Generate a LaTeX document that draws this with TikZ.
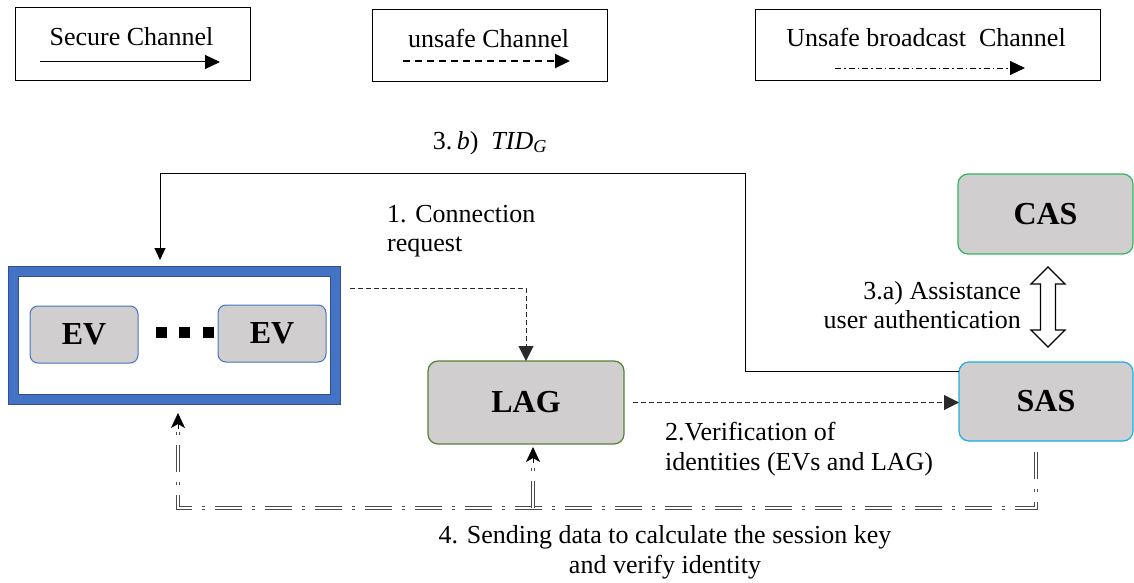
\documentclass[tikz,border=0pt]{standalone}
\usepackage{fontspec}
\setmainfont{Liberation Serif}
\usetikzlibrary{arrows.meta,calc}

\definecolor{boxgray}{HTML}{D0CECE}
\definecolor{evblue}{HTML}{4472C4}
\definecolor{evdark}{HTML}{2F528F}
\definecolor{laggreen}{HTML}{548235}
\definecolor{casgreen}{HTML}{2EB85C}
\definecolor{sasblue}{HTML}{1AAEE6}
\definecolor{bcgray}{HTML}{4A4A4A}
\definecolor{dashgray}{HTML}{2A2A2A}

\begin{document}
\begin{tikzpicture}[x=1pt,y=-1pt,
  lbl/.style={font=\fontsize{26}{29.5}\selectfont, inner sep=0pt},
  legendbox/.style={draw, line width=1pt, inner sep=0pt, outer sep=0pt},
  entity/.style={draw, fill=boxgray, rounded corners=10pt, line width=1.2pt,
    font=\fontsize{32}{36}\selectfont\bfseries, inner sep=0pt, outer sep=0pt},
  evbox/.style={entity, draw=evblue, line width=1pt, rounded corners=8pt,
    minimum width=108pt, minimum height=57pt},
  securearrow/.style={line width=1pt, -{Triangle[length=15pt,width=14pt]}},
  unsafelegend/.style={line width=2.2pt, dash pattern=on 7pt off 5pt,
    -{Triangle[length=15pt,width=14pt]}},
  bcastlegend/.style={line width=0.9pt, dash pattern=on 6pt off 3pt on 1.5pt off 3pt,
    -{Triangle[length=15pt,width=14pt]}},
  unsafeconn/.style={draw=dashgray, line width=1pt, dash pattern=on 5pt off 3pt,
    -{Triangle[length=15pt,width=15pt]}},
  bcast/.style={draw=bcgray, line width=0.9pt, double=white, double distance=1.6pt,
    dash pattern=on 27pt off 10pt on 3pt off 10pt},
  bctip/.style={line width=0.6pt, -{Stealth[length=15pt,width=14pt,inset=4pt]}},
]
\useasboundingbox (0,0) rectangle (1134,583);

% ---------- legend ----------
\node[legendbox, minimum width=235pt, minimum height=73pt] (lgSecure) at (132.5,44.5) {};
\node[lbl] (lgSecureTxt) at (131.5,37) {Secure Channel};
\coordinate (lgSecureA) at (40,62);
\coordinate (lgSecureB) at (220,62);
\draw[securearrow] (lgSecureA) -- (lgSecureB);

\node[legendbox, minimum width=235pt, minimum height=72pt] (lgUnsafe) at (489.5,46) {};
\node[lbl] (lgUnsafeTxt) at (488.5,38) {unsafe Channel};
\coordinate (lgUnsafeA) at (403,61);
\coordinate (lgUnsafeB) at (570,61);
\draw[unsafelegend] (lgUnsafeA) -- (lgUnsafeB);

\node[legendbox, minimum width=345pt, minimum height=71pt] (lgBcast) at (927.5,45.5) {};
\node[lbl] (lgBcastTxt) at (926,37) {Unsafe broadcast~ Channel};
\coordinate (lgBcastA) at (835,68);
\coordinate (lgBcastB) at (1025,68);
\draw[bcastlegend] (lgBcastA) -- (lgBcastB);

% ---------- EV group ----------
\node[draw=evdark, line width=1.2pt, double=evblue, double distance=8.6pt,
      minimum width=322pt, minimum height=128pt, inner sep=0pt, outer sep=5.5pt]
      (evs) at (174.5,335.5) {};
\node[evbox] (ev1) at (84,334.5) {EV};
\node[evbox] (ev2) at (272,333.5) {EV};
\fill (155.5,327) rectangle ++(11,11);
\fill (178.5,327) rectangle ++(11,11);
\fill (202.5,327) rectangle ++(11,11);

% ---------- servers ----------
\node[entity, draw=laggreen, minimum width=196pt, minimum height=83pt] (lag) at (526,402.5) {LAG};
\node[entity, draw=casgreen, minimum width=175pt, minimum height=80pt] (cas) at (1045.5,214) {CAS};
\node[entity, draw=sasblue, minimum width=174pt, minimum height=79pt] (sas) at (1046,401.5) {SAS};

% ---------- 3.b) secure channel back to the EVs ----------
\coordinate (topR) at (745,173);
\draw[line width=1pt, -{Triangle[length=12pt,width=11pt]}, shorten >=6pt]
  ([yshift=30.5pt]sas.west) -| (topR) -| ([xshift=-14.5pt]evs.north);
\node[lbl] (tidlbl) at (490,143) {3.\,\textit{b})~~\textit{TID}\textsubscript{\textit{G}}};

% ---------- 1. connection request ----------
\draw[unsafeconn, shorten <=9pt] ([yshift=47.5pt]evs.east) -| (lag.north);
\node[lbl, align=left, anchor=west] (reqlbl) at (387,231) {1. Connection\\request};

% ---------- 2. verification ----------
\draw[unsafeconn, shorten <=9pt] (lag.east) -- (lag.east -| sas.west);
\node[lbl, align=left, anchor=west] (verlbl) at (665,449) {2.Verification of\\identities (EVs and LAG)};

% ---------- 3.a) CAS <-> SAS ----------
\coordinate (dAtop) at ($(cas.south)+(2.5,13)$);
\draw[fill=white, line width=1.2pt, line join=miter]
  (dAtop) -- ++(17,17) -- ++(-9.5,0) -- ++(0,46) -- ++(9.5,0) -- ++(-17,17)
  -- ++(-17,-17) -- ++(9.5,0) -- ++(0,-46) -- ++(-9.5,0) -- cycle;
\node[lbl, align=right, anchor=east] (assistlbl) at (1021,305) {3.a) Assistance\\user authentication};

% ---------- 4. broadcast ----------
\coordinate (bcR) at (1036,508);
\coordinate (bcL) at (178,508);
\coordinate (bcM) at (533,508);
\coordinate (bcLtop) at (178,429);
\coordinate (bcMtop) at (533,463);
\draw[bcast] ([xshift=-10pt,yshift=-11pt]sas.south) -- (bcR) -- (bcL) -- (bcLtop);
\draw[bcast] (bcM) -- (bcMtop);
\draw[bctip, shorten >=8pt] (bcLtop) -- (bcL |- evs.south);
\draw[bctip, shorten >=3pt] (bcMtop) -- ([xshift=7pt]lag.south);
\node[lbl, align=center] (sendlbl) at (665,552.5) {4. Sending data to calculate the session key\\and verify identity};

\end{tikzpicture}
\end{document}
